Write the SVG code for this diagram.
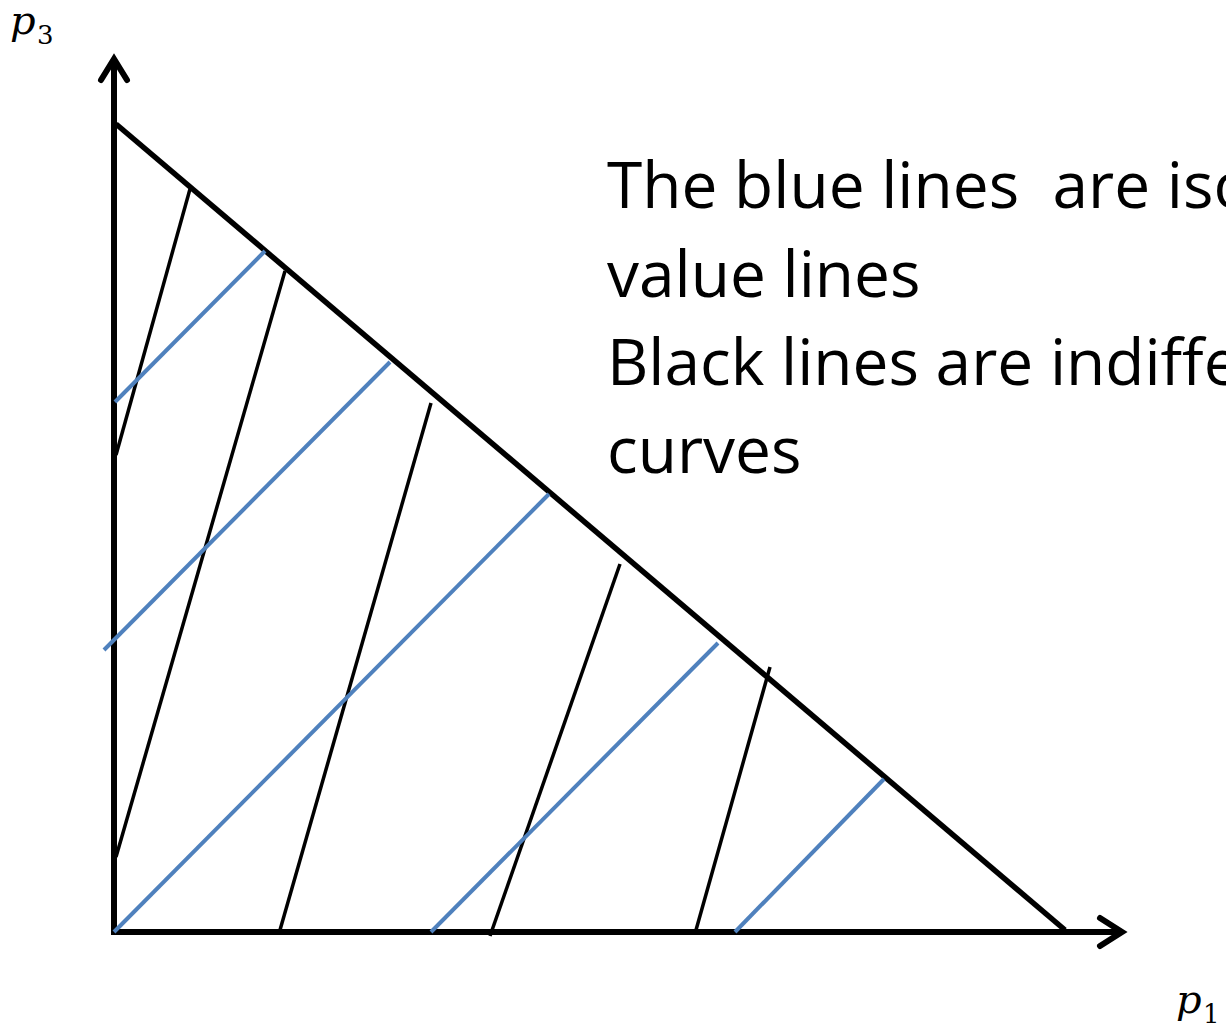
<svg xmlns="http://www.w3.org/2000/svg" width="1226" height="1029" viewBox="0 0 1226 1029">
<style>
.axis{stroke:#000;stroke-width:6;fill:none;stroke-linecap:butt}
.head{stroke:#000;stroke-width:6;fill:none;stroke-linecap:round;stroke-linejoin:miter}
.hyp{stroke:#000;stroke-width:5.5;fill:none}
.ind{stroke:#000;stroke-width:3.5;fill:none}
.iso{stroke:#4F81BD;stroke-width:4;fill:none}
.txt{font-family:"Open Sans","Noto Sans",sans-serif;font-size:64px;fill:#000;white-space:pre}
.mp{font-family:"DejaVu Serif",serif;font-style:italic;font-size:40px;fill:#000}
.ms{font-family:"DejaVu Serif",serif;font-size:26px;fill:#000}
</style>
<rect width="1226" height="1029" fill="#fff"/>
<g id="axes">
<line class="axis" x1="114" y1="935" x2="114" y2="60"/>
<polyline class="head" points="101,80 114,59 127,80"/>
<line class="axis" x1="111" y1="932" x2="1120" y2="932"/>
<polyline class="head" points="1100,918 1122,932 1100,946"/>
</g>
<g id="budget">
<line class="hyp" x1="116" y1="124" x2="1065" y2="930"/>
</g>
<g id="connectors">
<g id="indifference">
<line class="ind" x1="190" y1="189" x2="116" y2="455"/>
<line class="ind" x1="285" y1="271" x2="116" y2="857"/>
<line class="ind" x1="431" y1="403" x2="280" y2="930"/>
<line class="ind" x1="620" y1="564" x2="490" y2="936"/>
<line class="ind" x1="770" y1="667" x2="696" y2="930"/>
</g>
<g id="isovalue">
<line class="iso" x1="265" y1="251" x2="115" y2="402"/>
<line class="iso" x1="390" y1="362" x2="104" y2="650"/>
<line class="iso" x1="549" y1="494" x2="114" y2="932"/>
<line class="iso" x1="718" y1="643" x2="431" y2="932"/>
<line class="iso" x1="884" y1="779" x2="735" y2="932"/>
</g>
</g>
<g id="label-text">
<text class="txt" x="607" y="208">The blue lines  are iso</text>
<text class="txt" x="607" y="297">value lines</text>
<text class="txt" x="607" y="385">Black lines are indiffe</text>
<text class="txt" x="607" y="473">curves</text>
</g>
<g id="label-p3">
<text class="mp" x="10" y="34">p</text>
<text class="ms" x="37" y="44">3</text>
</g>
<g id="label-p1">
<text class="mp" x="1176" y="1013">p</text>
<text class="ms" x="1203" y="1023">1</text>
</g>
</svg>
